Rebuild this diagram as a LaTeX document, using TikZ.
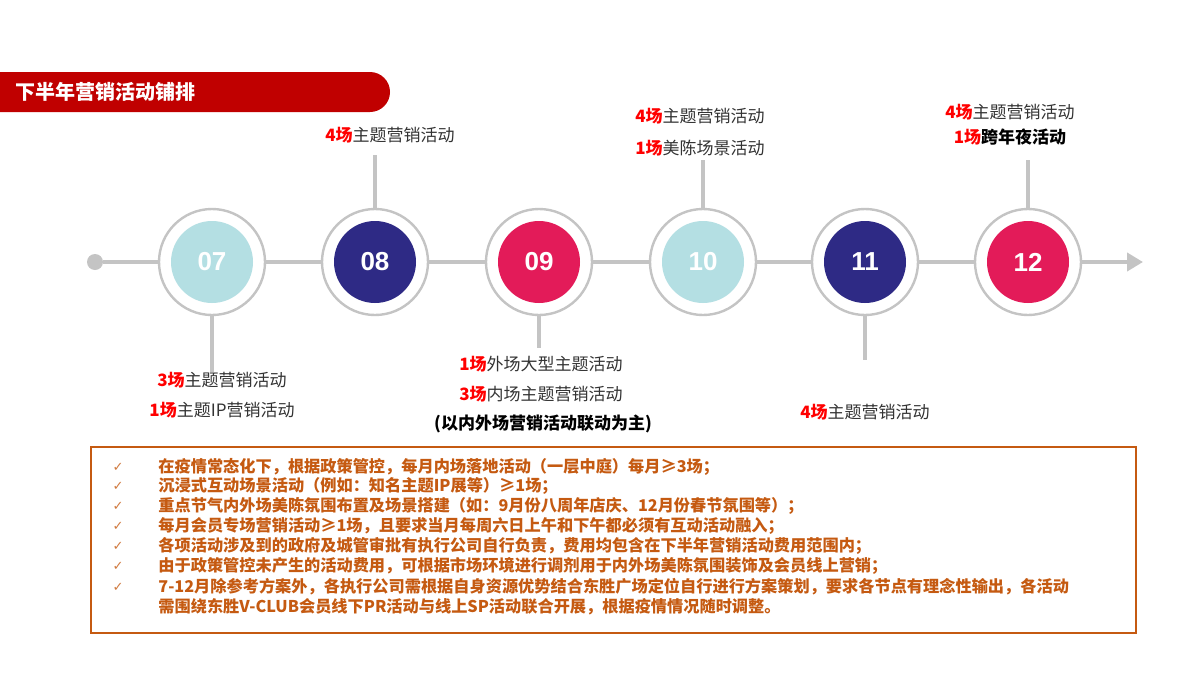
\documentclass[tikz,border=0pt]{standalone}
\usepackage{fontspec}
\setmainfont{Liberation Sans}
\newfontfamily\cjk{Noto Sans CJK SC}
\newfontfamily\djv{DejaVu Sans}
\usetikzlibrary{arrows.meta}
\definecolor{tred}{HTML}{C00000}
\definecolor{lteal}{HTML}{B4DFE3}
\definecolor{navy}{HTML}{2E2A85}
\definecolor{crim}{HTML}{E31B59}
\definecolor{lgray}{HTML}{C4C4C4}
\definecolor{org}{HTML}{C55A11}
\definecolor{txt}{HTML}{333333}
\begin{document}
\begin{tikzpicture}[x=0.5pt,y=-0.5pt,
  tl/.style={draw=lgray,line width=2pt},
  ring/.style={circle,draw=lgray,line width=1.2pt,fill=white,minimum size=53pt,inner sep=0pt},
  disc/.style={circle,minimum size=41pt,inner sep=0pt,text=white,font=\bfseries\fontsize{13}{13}\selectfont},
  lab/.style={font=\cjk\fontsize{8.5}{10}\selectfont,text=txt,inner sep=0pt},
  note/.style={font=\cjk\bfseries\fontsize{8.1}{9}\selectfont,text=org,inner sep=0pt,anchor=west},
  chk/.style={font=\djv\bfseries\fontsize{6.5}{6.5}\selectfont,text=org!80,inner sep=0pt}]
\useasboundingbox (0,0) rectangle (1200,675);
\fill[white] (0,0) rectangle (1200,675);
% title bar
\begin{scope}
\clip (0,0) rectangle (1200,675);
\fill[tred,rounded corners=10pt] (-40,72) rectangle (390,112);
\end{scope}
\node[anchor=west,text=white,font=\cjk\bfseries\fontsize{10}{10}\selectfont,inner sep=0pt] (title) at (15,92) {下半年营销活动铺排};
% timeline
\node[circle,fill=lgray,minimum size=8pt,inner sep=0pt] (start) at (95,262) {};
\coordinate (end) at (1143,262);
\draw[tl,-{Triangle[length=8pt,width=9pt]}] (start) -- (end);
% circles
\foreach \n/\x/\c in {07/212/lteal,08/375/navy,09/539/crim,10/703/lteal,11/865/navy,12/1028/crim}{
  \node[ring] (r\n) at (\x,262) {};
  \node[disc,fill=\c] (m\n) at (\x,262) {\n};
}
% connectors
\coordinate (e07) at (212,372); \draw[tl] (r07.south) -- (e07);
\coordinate (e08) at (375,155); \draw[tl] (r08.north) -- (e08);
\coordinate (e09) at (539,348); \draw[tl] (r09.south) -- (e09);
\coordinate (e10) at (703,160); \draw[tl] (r10.north) -- (e10);
\coordinate (e11) at (865,360); \draw[tl] (r11.south) -- (e11);
\coordinate (e12) at (1028,160); \draw[tl] (r12.north) -- (e12);
\newcommand\rn[1]{\textcolor{red}{\bfseries #1}}
% labels
\node[lab] (l08) at (390,135) {\rn{4场}主题营销活动};
\node[lab] (l07a) at (222,380) {\rn{3场}主题营销活动};
\node[lab] (l07b) at (222,410) {\rn{1场}主题IP营销活动};
\node[lab] (l09a) at (541,364) {\rn{1场}外场大型主题活动};
\node[lab] (l09b) at (541,394) {\rn{3场}内场主题营销活动};
\node[lab,font=\cjk\bfseries\fontsize{8.5}{10}\selectfont,text=black] (l09c) at (543,424) {(以内外场营销活动联动为主)};
\node[lab] (l10a) at (700,116) {\rn{4场}主题营销活动};
\node[lab] (l10b) at (700,148) {\rn{1场}美陈场景活动};
\node[lab] (l11) at (865,412) {\rn{4场}主题营销活动};
\node[lab] (l12a) at (1010,112) {\rn{4场}主题营销活动};
\node[lab] (l12b) at (1010,137) {\rn{1场}\textcolor{black}{\bfseries 跨年夜活动}};
% notes box
\node[draw=org,line width=1.1pt,minimum width=522.5pt,minimum height=93pt,anchor=north west,inner sep=0pt] (box) at (90,446) {};
\foreach \y/\t in {467/{在疫情常态化下，根据政策管控，每月内场落地活动（一层中庭）每月≥3场；},
  486/{沉浸式互动场景活动（例如：知名主题IP展等）≥1场；},
  506/{重点节气内外场美陈氛围布置及场景搭建（如：9月份八周年店庆、12月份春节氛围等）；},
  526/{每月会员专场营销活动≥1场，且要求当月每周六日上午和下午都必须有互动活动融入；},
  546/{各项活动涉及到的政府及城管审批有执行公司自行负责，费用均包含在下半年营销活动费用范围内；},
  566/{由于政策管控未产生的活动费用，可根据市场环境进行调剂用于内外场美陈氛围装饰及会员线上营销；},
  587/{7-12月除参考方案外，各执行公司需根据自身资源优势结合东胜广场定位自行进行方案策划，要求各节点有理念性输出，各活动}}{
  \node[chk] at (118,\y) {✓};
  \node[note] at (158,\y) {\t};
}
\node[note] (last) at (158,607) {需围绕东胜V-CLUB会员线下PR活动与线上SP活动联合开展，根据疫情情况随时调整。};
\end{tikzpicture}
\end{document}
